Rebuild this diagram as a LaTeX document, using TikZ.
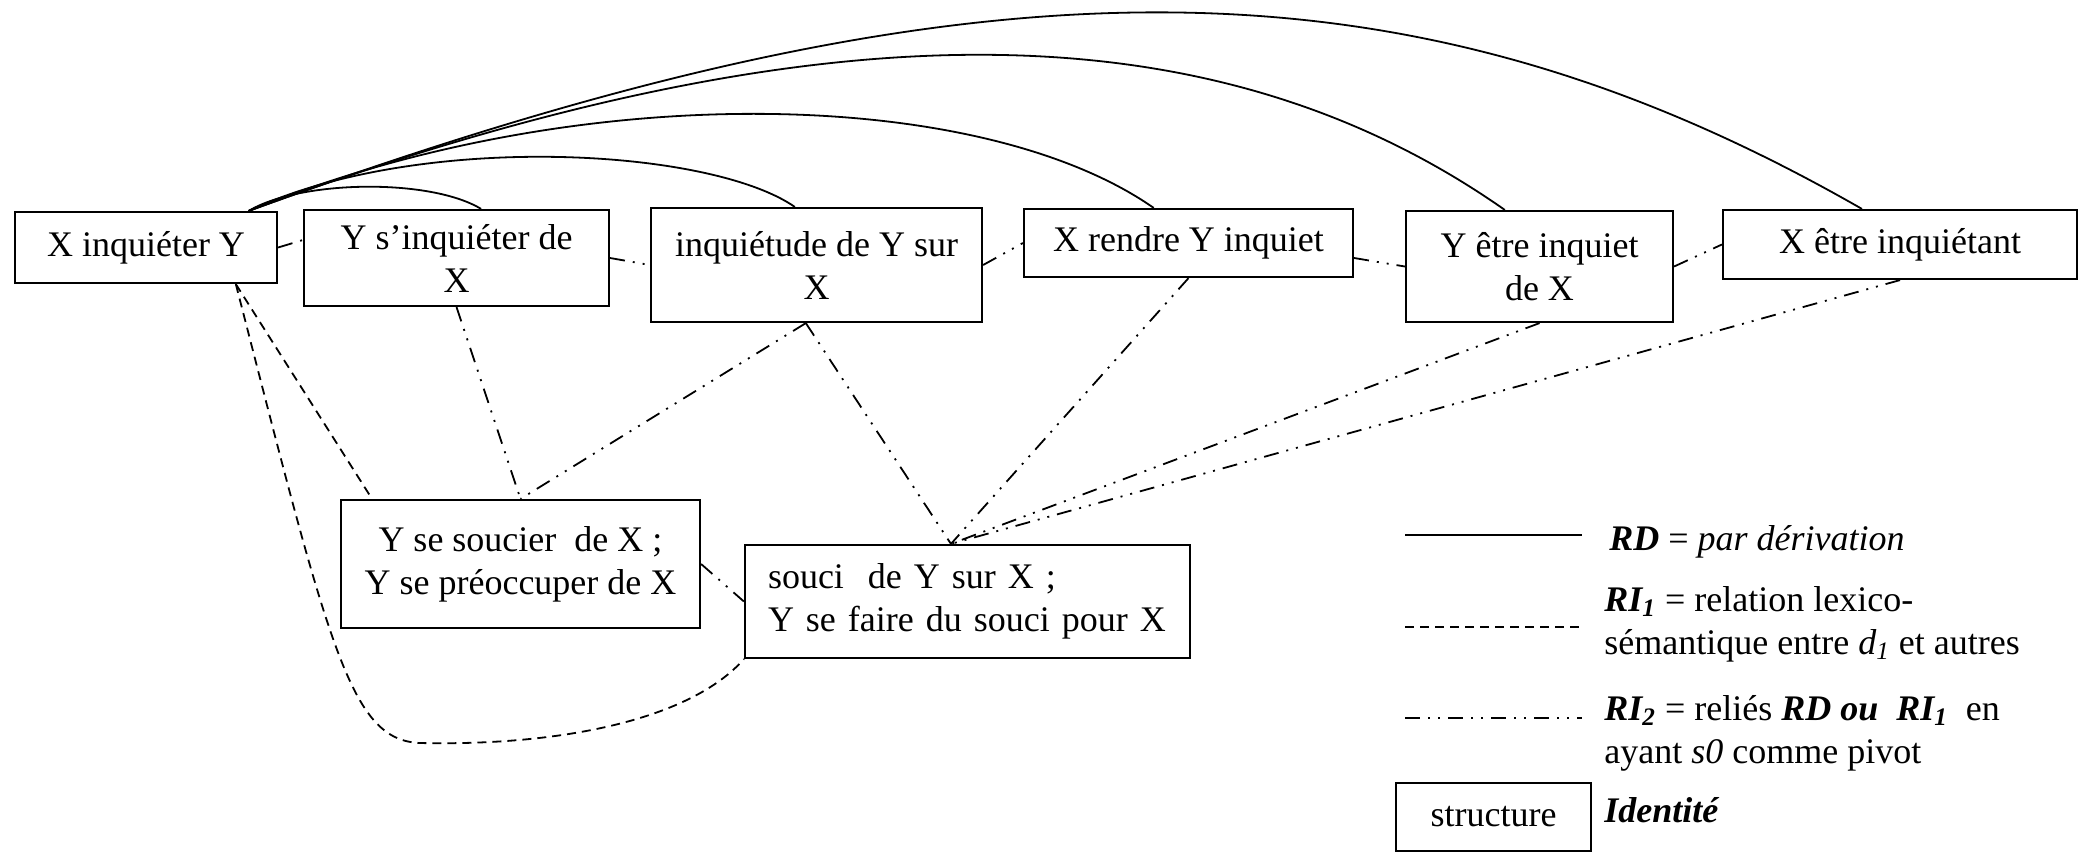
\documentclass[tikz,border=0pt]{standalone}
\usepackage{fontspec}
\setmainfont{Liberation Serif}
\usetikzlibrary{calc}
\tikzset{
  box/.style={draw, line width=1.1pt, align=center, inner sep=0pt, font=\fontsize{18}{21.5}\selectfont},
  rd/.style={line width=0.9pt},
  ri1/.style={line width=0.9pt, dash pattern=on 4.5pt off 3pt},
  ri2/.style={line width=0.9pt, dash pattern=on 7.5pt off 4pt on 1pt off 4pt on 1pt off 4pt},
  lab/.style={anchor=west, align=left, inner sep=0pt, font=\fontsize{18}{21.5}\selectfont}
}
\begin{document}
\begin{tikzpicture}[x=0.5pt,y=-0.5pt]
\useasboundingbox (0,0) rectangle (2083,853);
% nodes
\node[box, minimum width=131pt, minimum height=35.5pt] (A) at (146,247.5) {X inquiéter Y};
\node[box, minimum width=152.5pt, minimum height=48pt] (B) at (456.5,258) {Y s’inquiéter de\\X};
\node[box, minimum width=165.5pt, minimum height=57pt] (C) at (816.5,265) {inquiétude de Y sur\\X};
\node[box, minimum width=164.5pt, minimum height=34pt] (D) at (1188.5,243) {X rendre Y inquiet};
\node[box, minimum width=133.5pt, minimum height=55.5pt] (E) at (1539.5,266.5) {Y être inquiet\\de X};
\node[box, minimum width=177pt, minimum height=34.5pt] (F) at (1900,244.5) {X être inquiétant};
\node[box, minimum width=179.5pt, minimum height=64pt] (G) at (520.5,564) {Y se soucier~ de X ;\\Y se préoccuper de X};
\node[box, align=left, text width=199.5pt, inner xsep=11.5pt, minimum height=56.5pt] (H) at (967.5,601.5) {souci~ de Y sur X ;\\Y se faire du souci pour X};
% anchor points
\coordinate (a0) at ($(A.north west)!0.889!(A.north east)$);
\coordinate (bT) at ($(B.north west)!0.58!(B.north east)$);
\coordinate (cT) at ($(C.north west)!0.435!(C.north east)$);
\coordinate (dT) at ($(D.north west)!0.395!(D.north east)$);
\coordinate (eT) at ($(E.north west)!0.371!(E.north east)$);
\coordinate (fT) at ($(F.north west)!0.393!(F.north east)$);
\coordinate (aB) at ($(A.south west)!0.84!(A.south east)$);
\coordinate (cB) at ($(C.south west)!0.468!(C.south east)$);
\coordinate (gT) at (G.north);
\coordinate (gL) at ($(G.north west)!0.089!(G.north east)$);
\coordinate (hT) at ($(H.north west)!0.463!(H.north east)$);
% RD arcs
\draw[rd] (a0) .. controls (300,180) and (430,178) .. (bT);
\draw[rd] (a0) .. controls (416,132) and (708,147) .. (cT);
\draw[rd] (a0) .. controls (575,78) and (979,86) .. (dT);
\draw[rd] (a0) .. controls (791,12) and (1197,-6) .. (eT);
\draw[rd] (a0) .. controls (977,-55) and (1407,-52) .. (fT);
% RI1 dashed
\draw[ri1] (aB) -- (gL);
\draw[ri1] (aB) .. controls (330,650) and (350,740) .. (420,743)
  .. controls (560,746) and (690,720) .. (H.south west);
% RI2
\draw[ri2] (B.south) -- (gT);
\draw[ri2] (cB) -- (gT);
\draw[ri2] (cB) -- (hT);
\draw[ri2] (D.south) -- (hT);
\draw[ri2] (E.south) -- (hT);
\draw[ri2] (F.south) -- (hT);
\draw[ri2] (A.east) -- ([yshift=9pt]B.west);
\draw[ri2] (B.east) -- (C.west);
\draw[ri2] (C.east) -- (D.west);
\draw[ri2] ([yshift=-7.5pt]D.east) -- (E.west);
\draw[ri2] (E.east) -- (F.west);
\draw[ri2] (G.east) -- (H.west);
% legend
\coordinate (l1a) at (1405,535); \coordinate (l1b) at (1582,535);
\coordinate (l2a) at (1405,627); \coordinate (l2b) at (1582,627);
\coordinate (l3a) at (1405,718); \coordinate (l3b) at (1582,718);
\draw[rd] (l1a) -- (l1b);
\draw[ri1] (l2a) -- (l2b);
\draw[ri2] (l3a) -- (l3b);
\node[lab] (t1) at (1609,542) {\textbf{\textit{RD}} = \textit{par dérivation}};
\node[lab] (t2) at (1604,624) {\textbf{\textit{RI\textsubscript{1}}} = relation lexico-\\sémantique entre \textit{d\textsubscript{1}} et autres};
\node[lab] (t3) at (1604,733) {\textbf{\textit{RI\textsubscript{2}}} = reliés \textbf{\textit{RD ou}}~ \textbf{\textit{RI\textsubscript{1}}}~ en\\ayant \textit{s0} comme pivot};
\node[box, minimum width=97.5pt, minimum height=34pt] (S) at (1493.5,817) {structure};
\node[lab] (t4) at (1604,810) {\textbf{\textit{Identité}}};
\end{tikzpicture}
\end{document}
